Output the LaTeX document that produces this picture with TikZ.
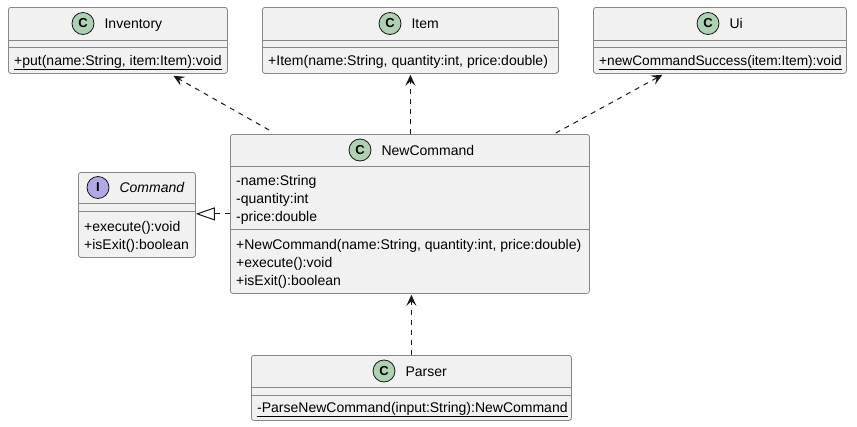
\documentclass[tikz,border=0pt]{standalone}
\usepackage{fontspec}
\setmainfont{Liberation Sans}
\usetikzlibrary{positioning,calc,arrows.meta}

\begin{document}
\begin{tikzpicture}[x=1pt,y=-1pt,
  font=\fontsize{14}{16}\selectfont,
  umlbox/.style={draw=boxline, line width=0.8pt, fill=boxfill, rounded corners=2.5pt, inner sep=0pt, anchor=north west},
  sep/.style={draw=boxline, line width=0.8pt},
  spot/.style={circle, draw=umlline, line width=0.8pt, minimum size=22pt, inner sep=0pt, font=\fontsize{13}{13}\selectfont\bfseries},
  classname/.style={inner sep=0pt, text height=10pt, text depth=0pt},
  member/.style={inner sep=0pt, anchor=base west},
  dep/.style={draw=umlline, line width=1pt, dash pattern=on 5pt off 5pt, -{Stealth[length=11pt,width=10pt,inset=4.5pt]}},
  real/.style={draw=umlline, line width=1pt, dash pattern=on 5pt off 5pt, -{Triangle[open,length=19pt,width=13pt]}}
]
% Define colors
\definecolor{boxfill}{HTML}{F1F1F1}
\definecolor{boxline}{HTML}{878787}
\definecolor{umlline}{HTML}{181818}
\definecolor{classspot}{HTML}{ADD1B2}
\definecolor{ifacespot}{HTML}{B4A7E5}

% Background
\fill[white] (0,0) rectangle (857,426);
\useasboundingbox (0,0) rectangle (857,426);

% Inventory
\node[umlbox, minimum width=219pt, minimum height=66pt] (inv) at (8,7) {};
\draw[sep] ($(inv.north west)+(0,33)$) -- ($(inv.north east)+(0,33)$);
\draw[sep] ($(inv.north west)+(0,40)$) -- ($(inv.north east)+(0,40)$);
\node[spot, fill=classspot] (invspot) at (83,23.5) {C};
\node[classname, right=10pt of invspot] (invname) {Inventory};
\node[member] (invput) at (14,65) {\underline{+put(name:String, item:Item):void}};

% Item
\node[umlbox, minimum width=296pt, minimum height=66pt] (item) at (262,7) {};
\draw[sep] ($(item.north west)+(0,33)$) -- ($(item.north east)+(0,33)$);
\draw[sep] ($(item.north west)+(0,40)$) -- ($(item.north east)+(0,40)$);
\node[spot, fill=classspot] (itemspot) at (390,23.5) {C};
\node[classname, right=10pt of itemspot] (itemname) {Item};
\node[member] (itemnew) at (268,65) {+Item(name:String, quantity:int, price:double)};

% Ui
\node[umlbox, minimum width=253pt, minimum height=66pt] (ui) at (593,7) {};
\draw[sep] ($(ui.north west)+(0,33)$) -- ($(ui.north east)+(0,33)$);
\draw[sep] ($(ui.north west)+(0,40)$) -- ($(ui.north east)+(0,40)$);
\node[spot, fill=classspot] (uispot) at (708,23.5) {C};
\node[classname, right=10pt of uispot] (uiname) {Ui};
\node[member] (uisuccess) at (599,65) {\underline{\fontsize{13.7}{16}\selectfont +newCommandSuccess(item:Item):void}};

% Command interface
\node[umlbox, minimum width=117pt, minimum height=85pt] (command) at (78,172) {};
\draw[sep] ($(command.north west)+(0,31)$) -- ($(command.north east)+(0,31)$);
\draw[sep] ($(command.north west)+(0,39)$) -- ($(command.north east)+(0,39)$);
\node[spot, fill=ifacespot] (commandspot) at (98,187.5) {I};
\node[classname, right=10pt of commandspot] (commandname) {\itshape Command};
\node[member] (commandexec) at (84,231) {+execute():void};
\node[member] (commandexit) at (84,249) {+isExit():boolean};

% NewCommand
\node[umlbox, minimum width=359pt, minimum height=159pt] (newcmd) at (230,134) {};
\draw[sep] ($(newcmd.north west)+(0,32)$) -- ($(newcmd.north east)+(0,32)$);
\draw[sep] ($(newcmd.north west)+(0,95)$) -- ($(newcmd.north east)+(0,95)$);
\node[spot, fill=classspot] (newcmdspot) at (360,150) {C};
\node[classname, right=10pt of newcmdspot] (newcmdname) {NewCommand};
\node[member] (newcmdname1) at (236,185) {-name:String};
\node[member] (newcmdqty) at (236,203) {-quantity:int};
\node[member] (newcmdprice) at (236,221) {-price:double};
\node[member] (newcmdctor) at (236,249) {+NewCommand(name:String, quantity:int, price:double)};
\node[member] (newcmdexec) at (236,267) {+execute():void};
\node[member] (newcmdexit) at (236,285) {+isExit():boolean};

% Parser
\node[umlbox, minimum width=320pt, minimum height=65pt] (parser) at (251,355) {};
\draw[sep] ($(parser.north west)+(0,32)$) -- ($(parser.north east)+(0,32)$);
\draw[sep] ($(parser.north west)+(0,40)$) -- ($(parser.north east)+(0,40)$);
\node[spot, fill=classspot] (parserspot) at (384,371) {C};
\node[classname, right=10pt of parserspot] (parsername) {Parser};
\node[member] (parserparse) at (257,412) {\underline{-ParseNewCommand(input:String):NewCommand}};

% Dependencies
\draw[dep] ($(newcmd.north west)+(39,-4)$) -- ($(inv.south)+(55.5,2)$);
\draw[dep] (item.south |- newcmd.north) -- ($(item.south)+(0,1)$);
\draw[dep] ($(newcmd.north east)+(-34,-1)$) -- ($(ui.south)+(-57.5,1)$);
\draw[dep] (parser.north) -- ($(parser.north |- newcmd.south)+(0,1)$);

% Realization
\draw[real] (newcmd.west) -- (command.east |- newcmd.west);
\end{tikzpicture}
\end{document}
